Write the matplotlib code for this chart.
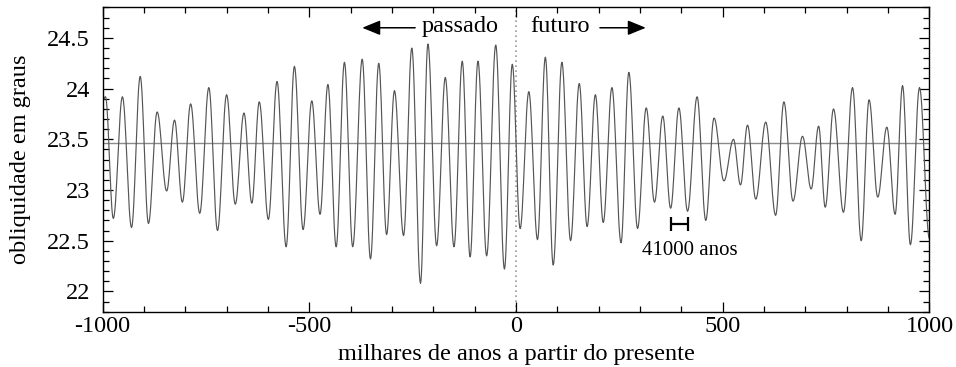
import numpy as np
import matplotlib
matplotlib.use("Agg")
import matplotlib.pyplot as plt

# ---- data (extrema of the obliquity curve) ----
ext_time = [-1000, -993, -974, -952, -930, -909, -889, -868, -845, -826, -807, -787,
            -765, -743, -722, -700, -679, -658, -639, -621, -599, -578, -556, -536,
            -515, -494, -474, -455, -435, -415, -395, -372, -352, -332, -313, -294,
            -272, -252, -231, -213, -192, -171, -150, -130, -111, -92, -71, -49,
            -28, -9, 10, 31, 52, 71, 90, 111, 132, 153, 172, 192,
            211, 232, 254, 273, 294, 315, 335, 355, 374, 394, 415, 438,
            459, 479, 503, 526, 543, 560, 580, 604, 628, 648, 670, 693,
            714, 732, 748, 768, 792, 814, 835, 854, 875, 897, 917, 935,
            954, 976, 1000]
ext_value = [23.88, 23.92, 22.72, 23.92, 22.63, 24.12, 22.67, 23.77, 22.99, 23.69, 22.88, 23.85,
             22.77, 24.01, 22.60, 23.94, 22.86, 23.76, 22.87, 23.87, 22.71, 24.07, 22.44, 24.22,
             22.61, 23.88, 22.76, 24.04, 22.44, 24.26, 22.44, 24.29, 22.32, 24.25, 22.56, 23.98,
             22.55, 24.40, 22.08, 24.44, 22.45, 24.11, 22.44, 24.27, 22.34, 24.27, 22.35, 24.43,
             22.22, 24.24, 22.62, 23.97, 22.51, 24.31, 22.26, 24.26, 22.50, 24.05, 22.64, 23.94,
             22.68, 24.01, 22.48, 24.16, 22.62, 23.81, 22.88, 23.73, 22.82, 23.81, 22.79, 23.92,
             22.70, 23.71, 23.09, 23.50, 23.05, 23.64, 22.91, 23.67, 22.75, 23.87, 22.89, 23.53,
             23.01, 23.63, 22.83, 23.80, 22.78, 24.01, 22.50, 23.89, 22.93, 23.62, 22.76, 24.03,
             22.46, 24.01, 22.52]

mean_obliquity = 23.465
x_ticks = [-1000, -500, 0, 500, 1000]
x_labels = ["-1000", "-500", "0", "500", "1000"]
y_ticks = [22, 22.5, 23, 23.5, 24, 24.5]
y_labels = ["22", "22.5", "23", "23.5", "24", "24.5"]
period_start, period_end = 375, 416

# ---- rendering: smooth half-cosine strokes between successive extrema ----
seg_x, seg_y = [], []
for i in range(len(ext_time) - 1):
    s = np.linspace(0, 1, 16, endpoint=False)
    w = (1 - np.cos(np.pi * s)) / 2
    seg_x.append(ext_time[i] + (ext_time[i + 1] - ext_time[i]) * s)
    seg_y.append(ext_value[i] + (ext_value[i + 1] - ext_value[i]) * w)
seg_x.append([ext_time[-1]])
seg_y.append([ext_value[-1]])
curve_x = np.concatenate(seg_x)
curve_y = np.concatenate(seg_y)

plt.rcParams["font.family"] = ["Liberation Serif", "DejaVu Serif"]
plt.rcParams["axes.unicode_minus"] = False

fig = plt.figure(figsize=(9.56, 3.67), dpi=100)
ax = fig.add_axes([0.1073, 0.1507, 0.9722 - 0.1073, 0.9796 - 0.1507])

ax.axhline(mean_obliquity, color="#8a8a8a", lw=1.0, zorder=1)
ax.axvline(0, color="#9a9a9a", lw=1.2, ls=(0, (1, 2)), zorder=1)
ax.plot(curve_x, curve_y, color="#555555", lw=0.85, zorder=2)

ax.set_xlim(-1000, 1000)
ax.set_ylim(21.8, 24.8)
ax.set_xticks(x_ticks, labels=x_labels)
ax.set_yticks(y_ticks, labels=y_labels)
ax.set_xticks(np.arange(-1000, 1001, 100), minor=True)
ax.set_yticks(np.arange(21.8, 24.81, 0.1), minor=True)
ax.tick_params(which="both", direction="in", top=True, right=True, width=0.9, labelsize=17.5)
ax.tick_params(which="major", length=7)
ax.tick_params(which="minor", length=4)
ax.tick_params(axis="y", pad=9)
ax.tick_params(axis="x", pad=3)
for sp in ax.spines.values():
    sp.set_linewidth(1.0)

ax.set_xlabel("milhares de anos a partir do presente", fontsize=17.5, labelpad=5)
ax.set_ylabel("obliquidade em graus", fontsize=17.5, labelpad=12)

ax.text(-134, 24.555, "passado", fontsize=17.5, ha="center", va="baseline")
ax.text(106, 24.555, "futuro", fontsize=17.5, ha="center", va="baseline")
astyle = "-|>,head_length=1.1,head_width=0.45"
ax.annotate("", xy=(-372, 24.60), xytext=(-244, 24.60),
            arrowprops=dict(arrowstyle=astyle, color="black", lw=1.1, shrinkA=0, shrinkB=0))
ax.annotate("", xy=(314, 24.60), xytext=(203, 24.60),
            arrowprops=dict(arrowstyle=astyle, color="black", lw=1.1, shrinkA=0, shrinkB=0))

ax.errorbar((period_start + period_end) / 2, 22.66, xerr=(period_end - period_start) / 2,
            color="black", lw=1.6, capsize=5, capthick=1.6)
ax.text(421, 22.363, "41000 anos", fontsize=15, ha="center", va="baseline")

fig.savefig("out.png", dpi=100)
